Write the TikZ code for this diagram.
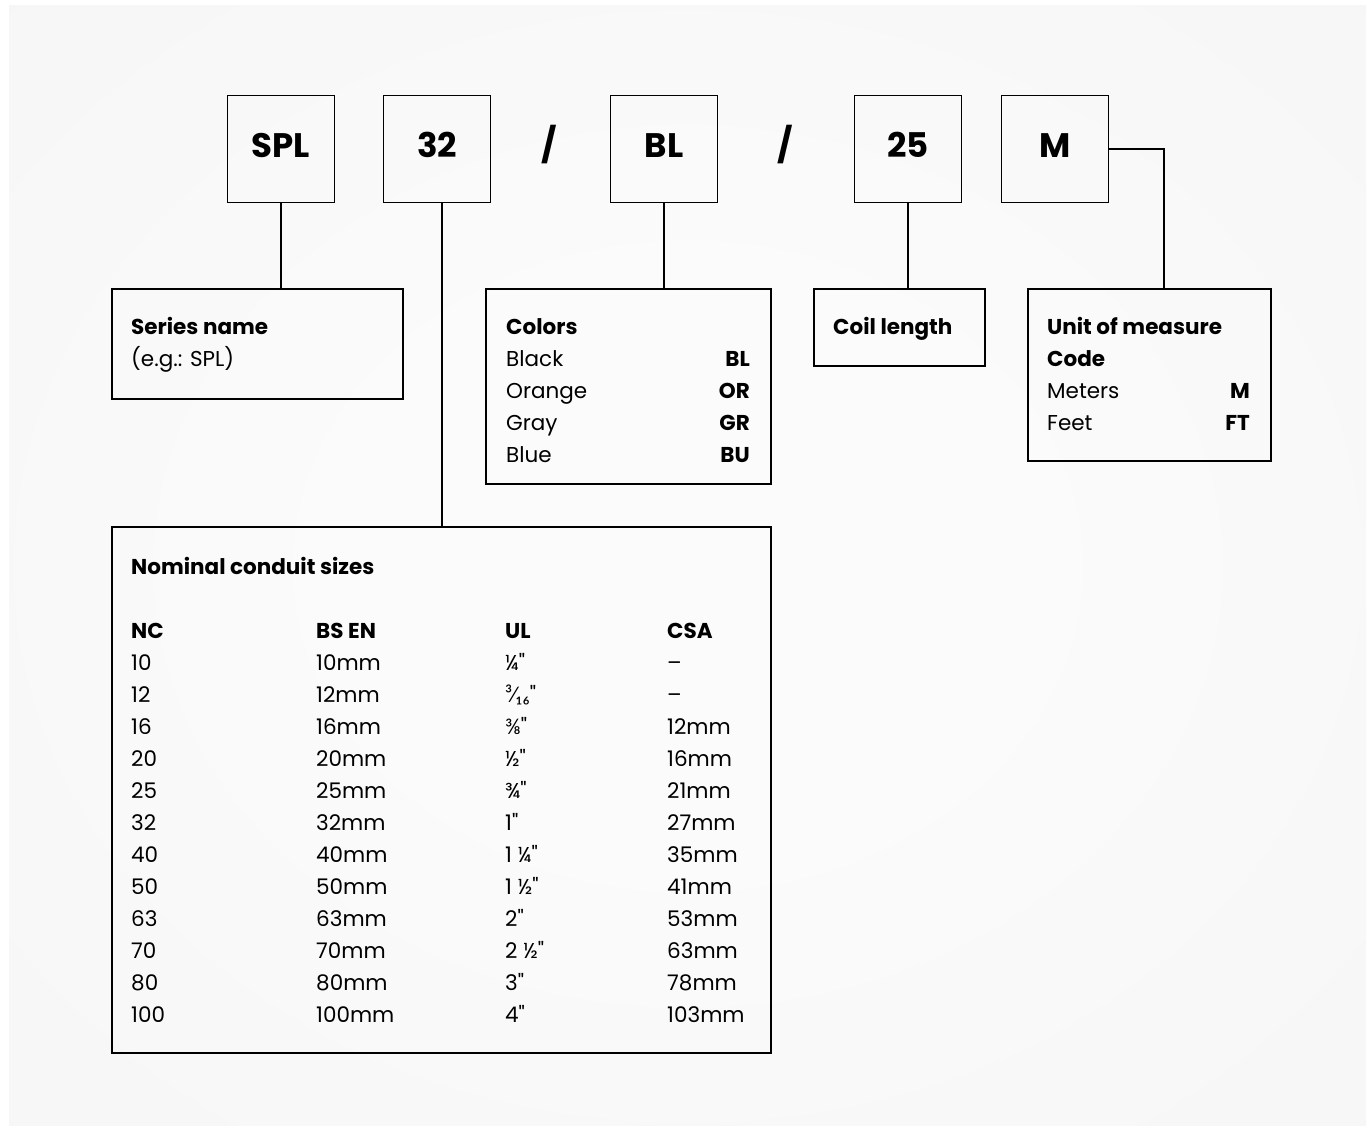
\documentclass[tikz,border=0pt]{standalone}
\usepackage{fontspec}
\setmainfont{Poppins}[Ligatures=TeXOff]
\newfontfamily\fracfont{Lato}[Ligatures=TeXOff]
\usepackage{tikz}
\usetikzlibrary{
  positioning,
  calc,
  }
\definecolor{bgin}{RGB}{251,251,251}
\definecolor{bgmid}{RGB}{244,244,244}
\definecolor{bgout}{RGB}{236,236,236}
\pgfdeclareradialshading{bgshade}{\pgfpoint{0bp}{0bp}}{color(0bp)=(bgin); color(12bp)=(bgin); color(48bp)=(bgmid); color(71bp)=(bgout)}
\newcommand{\codefont}{\fontsize{34}{40}\selectfont\bfseries}
\newcommand{\txtfont}{\fontsize{21.5}{32}\selectfont}
\newcommand{\inch}{\symbol{"22}}

\begin{document}
\begin{tikzpicture}[x=1pt, y=-1pt,
                    codebox/.style={draw, line width=1.5pt, minimum width=107pt, minimum height=107pt, inner sep=0pt,
                                    text height=24pt, text depth=6pt, font=\codefont},
                    infobox/.style={draw, line width=1.5pt, inner sep=0pt, anchor=north west},
                    txt/.style={anchor=base west, inner sep=0pt, font=\txtfont},
                    code/.style={anchor=base east, inner sep=0pt, font=\txtfont\bfseries},
                    link/.style={line width=1.5pt}]
                \useasboundingbox (0,0) rectangle (1371,1126);
                \shade[shading=bgshade] (9,6) rectangle (1366,1126);
                % code boxes
                \node[codebox] (spl) at (281,149) {SPL};
                \node[codebox] (n32) at (437,149) {32};
                \node[font=\codefont, text height=24pt, text depth=6pt] (sl1) at (549,149) {/};
                \node[codebox] (bl) at (664,149) {BL};
                \node[font=\codefont, text height=24pt, text depth=6pt] (sl2) at (785,149) {/};
                \node[codebox] (n25) at (908,149) {25};
                \node[codebox] (m) at (1055,149) {M};
                % explanation boxes
                \node[infobox, minimum width=291pt, minimum height=110pt] (series) at (111,288) {};
                \node[infobox, minimum width=285pt, minimum height=195pt] (colors) at (485,288) {};
                \node[infobox, minimum width=171pt, minimum height=77pt] (coil) at (813,288) {};
                \node[infobox, minimum width=243pt, minimum height=172pt] (unit) at (1027,288) {};
                \node[infobox, minimum width=659pt, minimum height=526pt] (sizes) at (111,526) {};
                % connectors
                \coordinate (unitin) at (1164,288);
                \draw[link] (spl.south) -- (spl.south |- series.north);
                \draw[link] ([xshift=5pt]n32.south) -- ([xshift=5pt]n32.south |- sizes.north);
                \draw[link] (bl.south) -- (bl.south |- colors.north);
                \draw[link] (n25.south) -- (n25.south |- coil.north);
                \draw[link] (m.east) -| (unitin);
                % series name
                \node[txt, font=\txtfont\bfseries] (seriest) at (131,334) {Series name};
                \node[txt] (seriesex) at (131,366) {(e.g.: SPL)};
                % colors
                \node[txt, font=\txtfont\bfseries] (colorst) at (506,334) {Colors};
                \foreach \name/\cd [count=\i] in {Black/BL, Orange/OR, Gray/GR, Blue/BU} {
                    \node[txt] (col\i) at (506,334+32*\i) {\name};
                    \node[code] (colcd\i) at (750,334+32*\i) {\cd};
                }
                % coil length
                \node[txt, font=\txtfont\bfseries] (coilt) at (833,334) {Coil length};
                % unit of measure
                \node[txt, font=\txtfont\bfseries] (unitt) at (1047,334) {Unit of measure};
                \node[txt, font=\txtfont\bfseries] (unitc) at (1047,366) {Code};
                \node[txt] (meters) at (1047,398) {Meters};
                \node[code] (meterscd) at (1250,398) {M};
                \node[txt] (feet) at (1047,430) {Feet};
                \node[code] (feetcd) at (1250,430) {FT};
                % nominal conduit sizes
                \node[txt, font=\txtfont\bfseries] (sizest) at (131,574) {Nominal conduit sizes};
                \node[txt, font=\txtfont\bfseries] (hnc) at (131,638) {NC};
                \node[txt, font=\txtfont\bfseries] (hbs) at (316,638) {BS EN};
                \node[txt, font=\txtfont\bfseries] (hul) at (505,638) {UL};
                \node[txt, font=\txtfont\bfseries] (hcsa) at (667,638) {CSA};
                \foreach \nc/\bs/\ul/\csa [count=\i] in {10/10mm/¼\inch/–, 12/12mm/{\fracfont ³⁄₁₆}\inch/–, 16/16mm/{\fracfont ⅜}\inch/12mm,
                        20/20mm/½\inch/16mm, 25/25mm/¾\inch/21mm, 32/32mm/1\inch/27mm, 40/40mm/1 ¼\inch/35mm,
                        50/50mm/1 ½\inch/41mm, 63/63mm/2\inch/53mm, 70/70mm/2 ½\inch/63mm, 80/80mm/3\inch/78mm,
                        100/100mm/4\inch/103mm} {
                    \node[txt] (nc\i) at (131,638+32*\i) {\nc};
                    \node[txt] (bs\i) at (316,638+32*\i) {\bs};
                    \node[txt] (ul\i) at (505,638+32*\i) {\ul};
                    \node[txt] (csa\i) at (667,638+32*\i) {\csa};
                }
                \end{tikzpicture}
\end{document}
